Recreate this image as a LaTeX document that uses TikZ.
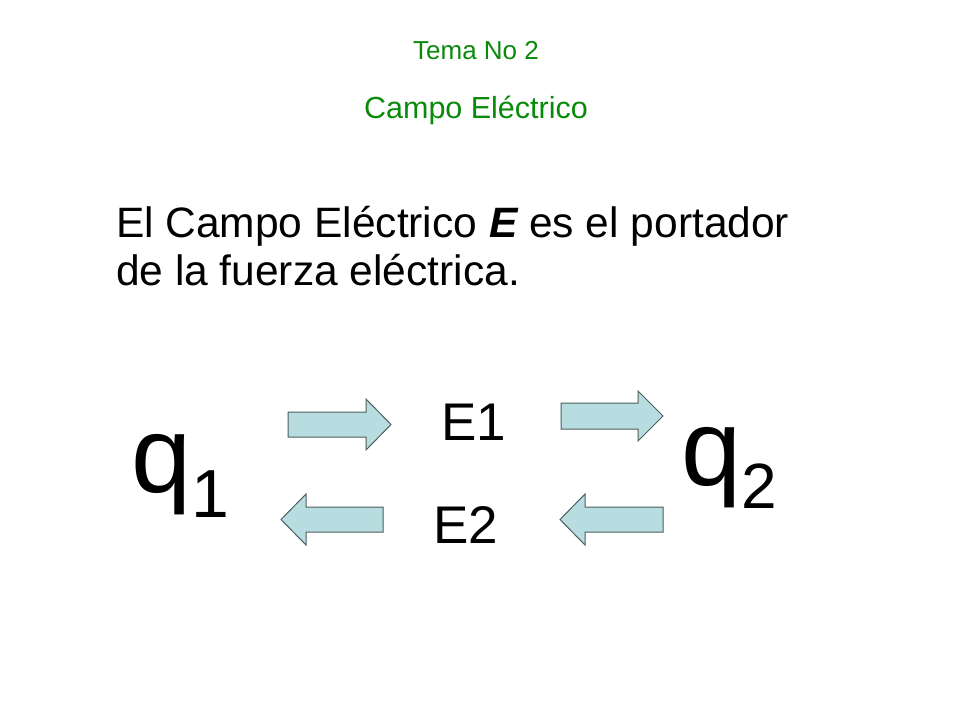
\documentclass[tikz,border=0pt]{standalone}
\usepackage{fontspec}
\setmainfont{Liberation Sans}
\definecolor{titlegreen}{HTML}{0A8A0A}
\definecolor{arrowfill}{HTML}{B8DDE1}
\definecolor{arrowline}{HTML}{4E5E5E}
\tikzset{
  txt/.style={anchor=base west, inner sep=0pt, outer sep=0pt},
  ctxt/.style={anchor=base, inner sep=0pt, outer sep=0pt},
  blockarrow/.style={fill=arrowfill, draw=arrowline, line width=1pt, line join=miter}
}
\newcommand{\fs}[1]{\fontsize{#1}{#1}\selectfont}
\begin{document}
\begin{tikzpicture}[x=1pt,y=-1pt]
\useasboundingbox (0,0) rectangle (960,720);
\fill[white] (0,0) rectangle (960,720);
% titles
\node[ctxt, text=titlegreen, font=\fs{26}] (tema) at (476,59) {Tema No 2};
\node[ctxt, text=titlegreen, font=\fs{30.5}] (campo) at (476,118) {Campo Eléctrico};
% main statement
\node[txt, font=\fs{42.5}] (line1) at (116,237) {El Campo Eléctrico {\bfseries\itshape E} es el portador};
\node[txt, font=\fs{42.5}] (line2) at (116,285) {de la fuerza eléctrica.};
% charges
\node[txt, font=\fs{108}] (q1) at (131,492) {q\raisebox{-25pt}{\fs{68}1}};
\node[txt, font=\fs{108}] (q2) at (681,485) {q\raisebox{-23pt}{\fs{64}2}};
% field labels
\node[txt, font=\fs{53}] (E1) at (441,440) {E1};
\node[txt, font=\fs{53}] (E2) at (433,543) {E2};
% block arrows
\draw[blockarrow] (288,412) -- (366,412) -- (366,399) -- (391,424.5) -- (366,450) -- (366,437) -- (288,437) -- cycle;
\draw[blockarrow] (561,403) -- (638,403) -- (638,391) -- (663,416) -- (638,441) -- (638,429) -- (561,429) -- cycle;
\draw[blockarrow] (383,507) -- (306,507) -- (306,494) -- (281,519.5) -- (306,545) -- (306,532) -- (383,532) -- cycle;
\draw[blockarrow] (663,507) -- (585,507) -- (585,494) -- (560,519.5) -- (585,545) -- (585,532) -- (663,532) -- cycle;
\end{tikzpicture}
\end{document}
